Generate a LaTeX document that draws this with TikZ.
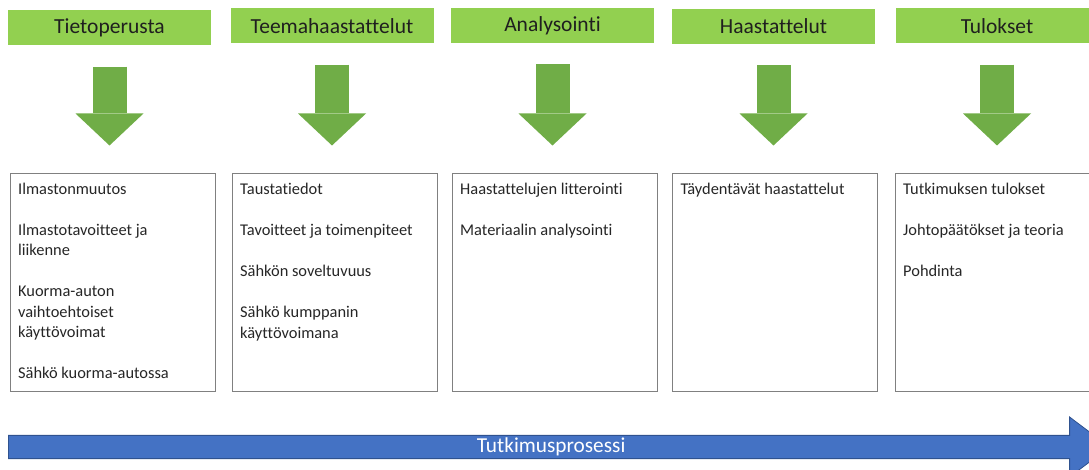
\documentclass[tikz,border=0pt]{standalone}
\usepackage{fontspec}
\setmainfont{Carlito}[Ligatures={NoCommon,NoContextual}, Contextuals=NoAlternate]
\usetikzlibrary{arrows.meta,shapes.arrows}

\definecolor{hdrgreen}{HTML}{92D050}
\definecolor{arrgreen}{HTML}{70AD47}
\definecolor{procblue}{HTML}{4472C4}
\definecolor{procedge}{HTML}{2F528F}

\tikzstyle{header} = [rectangle, fill=hdrgreen, minimum width=203, minimum height=35, inner sep=0pt, font=\fontsize{21.5}{26}\selectfont, text=black!88]
\tikzstyle{phase} = [rectangle, draw=black!50, line width=1pt, minimum width=205, minimum height=217]
\tikzstyle{items} = [anchor=north west, align=left, inner xsep=8.5pt, inner ysep=9pt, font=\fontsize{16.4}{20.3}\selectfont, text=black!85]
\tikzstyle{down} = [draw=arrgreen, line width=34pt, -{Triangle[width=68pt, length=32pt, line width=0pt]}, shorten <=21pt, shorten >=28pt]
\tikzstyle{process} = [single arrow, fill=procblue, draw=procedge, line width=0.8pt, minimum height=1101, minimum width=60, single arrow head extend=15, single arrow tip angle=74, inner sep=0pt, text=white, font=\fontsize{21.3}{26}\selectfont]

\begin{document}
\begin{tikzpicture}[x=1pt, y=-1pt]

  \useasboundingbox (0,0) rectangle (1089,470);

  % phases
  \node[header] (tieto) at (109.5,28) {Tietoperusta};
  \node[header] (teema) at (332,26) {Teemahaastattelut};
  \node[header] (analyysi) at (552.5,25.5) {Analysointi};
  \node[header] (haast) at (773.5,26.5) {Haastattelut};
  \node[header] (tulos) at (997,26) {Tulokset};

  % contents
  \node[phase] (tietobox) at (112.5,282.5) {};
  \node[phase] (teemabox) at (334.5,282.5) {};
  \node[phase] (analyysibox) at (554.5,282.5) {};
  \node[phase] (haastbox) at (775,282.5) {};
  \node[phase] (tulosbox) at (997.5,282.5) {};

  \node[items] (tietotxt) at (tietobox.north west) {Ilmastonmuutos\\[21pt]Ilmastotavoitteet ja\\liikenne\\[21pt]Kuorma-auton\\vaihtoehtoiset\\käyttövoimat\\[21pt]Sähkö kuorma-autossa};
  \node[items] (teematxt) at (teemabox.north west) {Taustatiedot\\[21pt]Tavoitteet ja toimenpiteet\\[21pt]Sähkön soveltuvuus\\[21pt]Sähkö kumppanin\\käyttövoimana};
  \node[items] (analyysitxt) at (analyysibox.north west) {Haastattelujen litterointi\\[21pt]Materiaalin analysointi};
  \node[items] (haasttxt) at (haastbox.north west) {Täydentävät haastattelut};
  \node[items] (tulostxt) at (tulosbox.north west) {Tutkimuksen tulokset\\[21pt]Johtopäätökset ja teoria\\[21pt]Pohdinta};

  \draw[down] (tieto) -- (tieto |- tietobox.north);
  \draw[down] (teema) -- (teema |- teemabox.north);
  \draw[down] (analyysi) -- (analyysi |- analyysibox.north);
  \draw[down] (haast) -- (haast |- haastbox.north);
  \draw[down] (tulos) -- (tulos |- tulosbox.north);

  % process arrow
  \node[process, anchor=tail] (prosessi) at (8,447) {Tutkimusprosessi};

\end{tikzpicture}
\end{document}
